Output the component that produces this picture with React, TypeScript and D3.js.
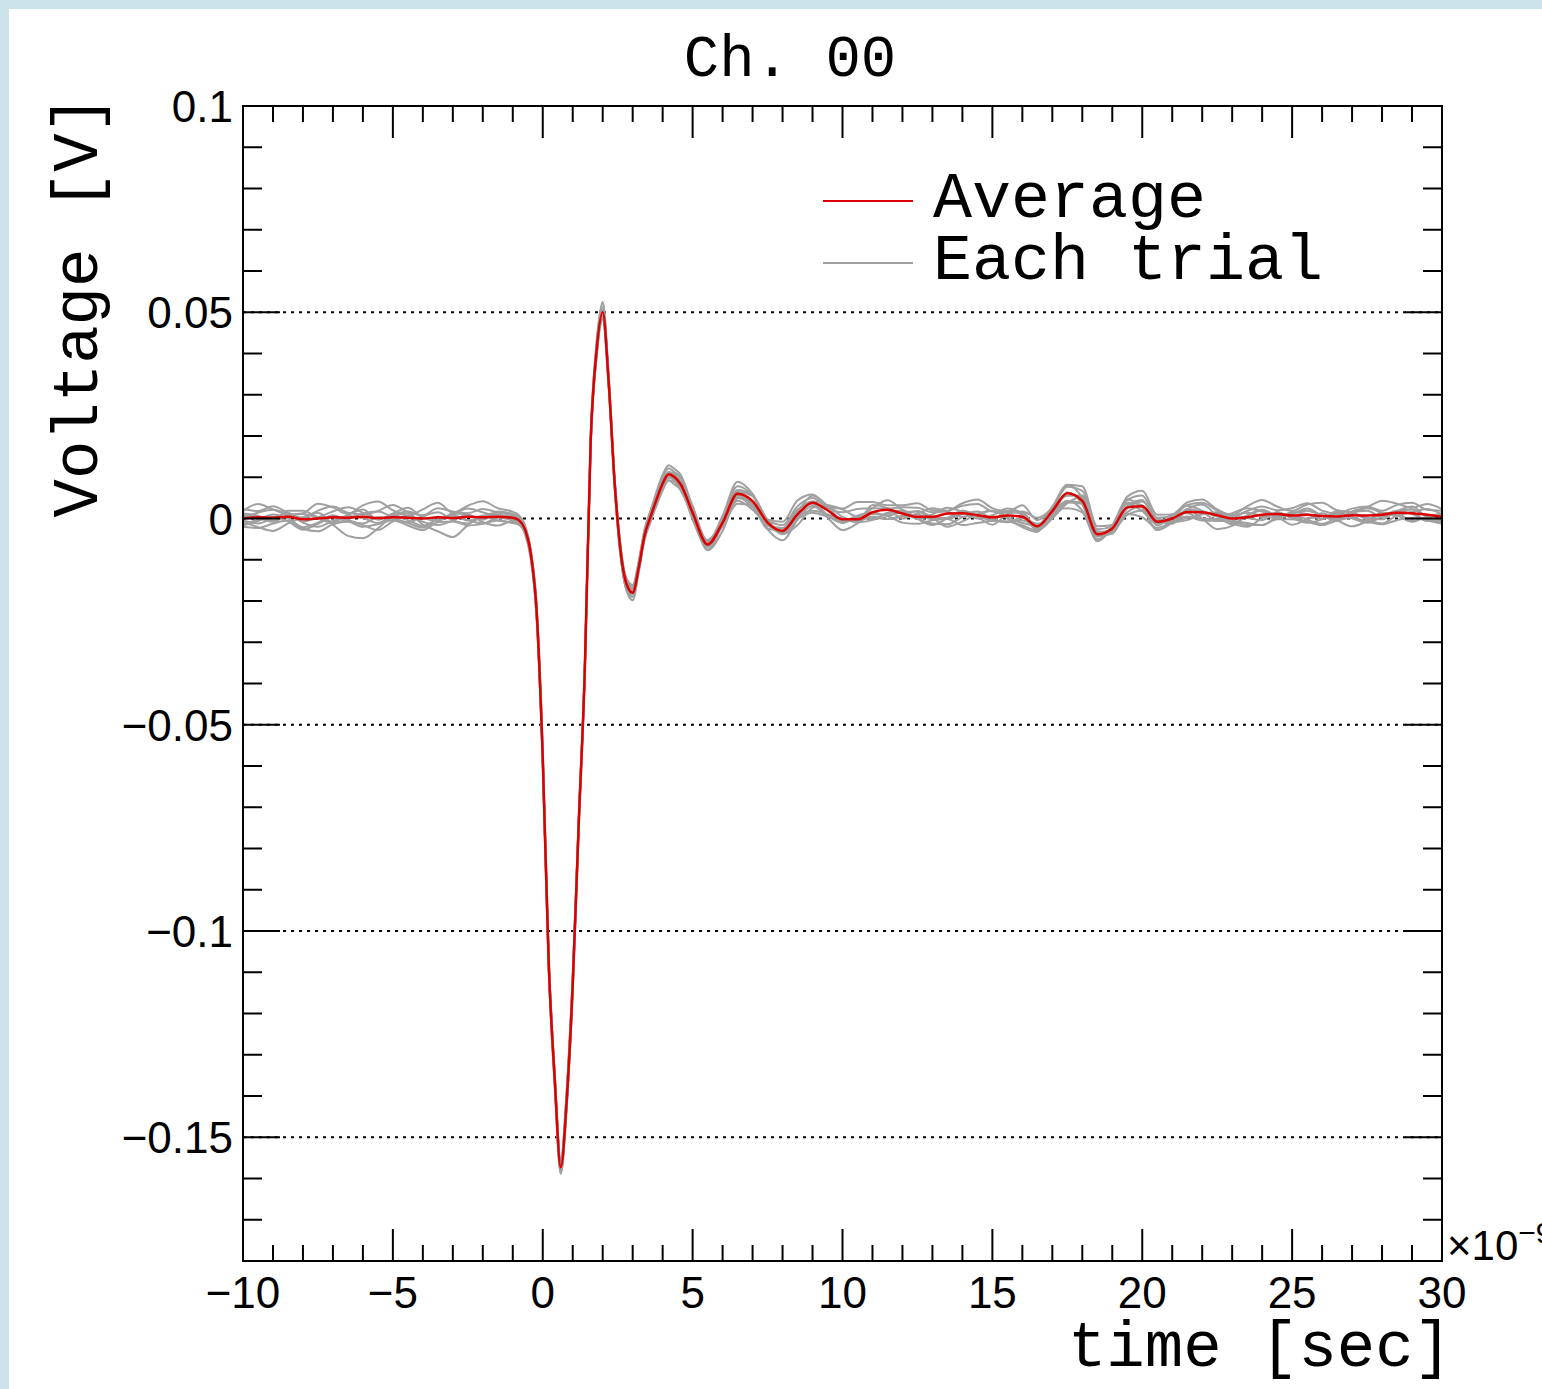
import React, { useEffect, useRef } from "react";
import * as d3 from "d3";

// sample times, in ns (x axis is shown as 1e-9 sec)
const times = [
  -10, -9.5, -9, -8.5, -8, -7.5, -7, -6.5, -6, -5.5, -5, -4.5, -4, -3.5, -3, -2.5, -2, -1.5, -1,
  -0.8, -0.6, -0.4, -0.2, 0, 0.2, 0.4, 0.6, 0.8, 1, 1.2, 1.4, 1.6, 1.8, 2, 2.2, 2.4, 2.6, 2.8, 3,
  3.2, 3.4, 3.6, 3.8, 4, 4.2, 4.4, 4.6,
  5, 5.5, 6, 6.5, 7, 7.5, 8, 8.5, 9, 9.5, 10, 10.5, 11, 11.5, 12, 12.5, 13, 13.5, 14, 14.5, 15,
  15.5, 16, 16.5, 17, 17.5, 18, 18.5, 19, 19.5, 20, 20.5, 21, 21.5, 22, 22.5, 23, 23.5, 24, 24.5,
  25, 25.5, 26, 26.5, 27, 27.5, 28, 28.5, 29, 29.5, 30,
];

// averaged waveform [V]
const average = [
  0.0, 0.0003, 0.0002, 0.0004, -0.0002, 0.0, 0.0003, 0.0002, 0.0004, 0.0001, 0.0003, 0.0002, 0.0,
  0.0003, 0.0001, 0.0004, 0.0003, 0.0004, 0.0002,
  -0.0004, -0.0025, -0.0085, -0.023, -0.058, -0.108, -0.136, -0.1573, -0.141, -0.113, -0.074,
  -0.0375, 0.019, 0.041, 0.05, 0.033, 0.0085, -0.008, -0.016, -0.018, -0.012, -0.004, 0.0005,
  0.0047, 0.0085, 0.0107, 0.01, 0.0083,
  0.0014, -0.0063, -0.001, 0.006, 0.0042, -0.001, -0.003, 0.001, 0.0038, 0.002, -0.0002, -0.0002,
  0.0015, 0.0021, 0.0012, 0.0004, 0.0004, 0.0012, 0.0013, 0.0008, 0.0003, 0.0007, 0.0004, -0.0019,
  0.0018, 0.0061, 0.0043, -0.0038, -0.0024, 0.0027, 0.003, -0.0008, 0.0, 0.0016, 0.0015, 0.0008,
  0.0, 0.0003, 0.0009, 0.0011, 0.0007, 0.0009, 0.0006, 0.0005, 0.0008, 0.0007, 0.0009, 0.0014,
  0.0013, 0.0009, 0.0004,
];

// each trial, as its deviation from the average [mV]
const trial01 = [
  1.2, 0.4, -0.8, 1.5, 2.1, 0.3, -1.1, 0.6, 1.8, -0.4, 0.9, 2.4, 0.2, -0.9, 1.1, 0.5, -0.6, 1.3, 0.8,
  0.5, 0.2, -0.4, -0.8, -1.2, -1.5, -0.9, -1.0, 0.6, 1.2, 0.9, 0.4, 0.3, 0.8, 1.2, 0.6, -0.3, -0.9,
  -1.3, -1.0, -0.6, 0.2, 0.8, 1.0, 0.7, 0.3, 0.6, -0.2,
  -0.5, -1.2, -0.4, 0.9, 1.4, 0.2, -0.8, -1.1, 0.3, 1.2, 0.6, -0.7, 1.8, 0.4, -1.2, 0.8, 2.1, 0.5,
  -0.9, 0.3, 1.6, -0.4, -1.5, 0.2, 0.9, -0.6, 1.3, 0.7, -1.0, -0.3, 1.1, 0.4, -1.3, 0.6, 1.9, -0.2,
  -1.4, 0.5, 1.0, -0.8, 0.3, 1.5, 0.1, -1.1, 0.7, 1.2, -0.5, 0.4, 1.6, -0.3, 0.8,
];
const trial02 = [
  -1.4, -0.6, 0.8, -0.3, -1.9, -1.0, 0.5, -0.7, -1.6, 0.2, -0.5, -1.3, -2.2, -0.4, 0.6, -0.8, -1.5,
  -0.2, -0.6,
  -0.4, -0.6, 0.5, 1.0, 1.4, 1.1, 0.8, 1.3, -0.4, -1.0, -0.7, -0.2, -0.5, -1.1, -1.6, -0.8, 0.4, 0.9,
  1.1, 1.4, 0.5, -0.3, -0.9, -1.2, -0.8, -0.4, -0.1, 0.3,
  0.6, 1.1, 0.3, -0.8, -1.5, -0.6, 0.7, 1.2, -0.2, -1.3, -0.9, 0.4, -1.6, -0.7, 0.8, -0.5, -2.0,
  -1.1, 0.6, -0.4, -1.8, 0.3, 1.2, -0.6, -1.4, 0.2, -0.9, -1.7, 0.4, 0.8, -1.2, -0.5, 1.0, -0.3,
  -1.6, -0.9, 0.7, -0.2, -1.3, 0.5, -0.6, -1.9, -0.8, 0.9, -0.4, -1.5, 0.2, -0.7, -2.1, -0.5, -1.0,
];
const trial03 = [
  2.3, 1.5, 2.8, 1.0, 0.4, 1.9, 2.6, 1.2, 0.6, 1.7, 3.0, 1.4, 0.8, 2.2, 1.6, 0.9, 2.0, 1.1, 0.9,
  0.8, 0.9, 0.6, 0.3, -0.5, -0.8, -0.3, 0.7, 1.5, 1.3, 0.9, 0.6, 0.9, 1.6, 2.0, 1.2, 0.5, 0.2, 0.4,
  0.9, 1.3, 1.6, 1.4, 1.1, 1.3, 1.5, 1.2, 1.6,
  0.9, 0.4, 1.1, 1.8, 1.3, 0.6, 1.4, 2.0, 1.2, 0.5, 1.7, 2.5, 1.0, 0.3, 1.5, 2.2, 1.1, 0.6, 1.8,
  2.7, 1.4, 0.7, 1.3, 2.1, 0.8, 1.6, 2.4, 1.2, 0.5, 1.9, 2.6, 1.0, 0.4, 1.7, 2.3, 1.1, 0.6, 1.5,
  2.0, 0.9, 1.8, 2.8, 1.3, 0.7, 1.6, 2.2, 1.0, 1.9, 2.5, 1.2, 1.5,
];
const trial04 = [
  -2.0, -2.6, -1.4, -0.9, -2.3, -3.1, -1.7, -1.0, -2.4, -1.5, -0.7, -1.9, -2.8, -1.2, -0.8, -2.1,
  -1.6, -0.9, -1.3,
  -1.0, -1.1, -1.3, -0.9, 0.4, 0.9, 1.5, 1.2, -0.3, -1.4, -1.8, -1.2, -1.0, -1.5, -1.9, -1.3, -0.8,
  -1.1, -1.6, -1.8, -1.2, -0.7, -1.0, -1.5, -1.7, -1.4, -1.1, -1.5,
  -0.6, -1.4, -2.0, -1.1, -0.5, -1.6, -2.3, -1.3, -0.7, -1.8, -2.6, -1.0, -0.4, -1.5, -2.2, -1.7,
  -0.8, -1.3, -2.9, -1.9, -0.9, -1.4, -2.1, -1.0, -0.6, -1.8, -2.4, -1.2, -0.5, -1.6, -2.7, -1.5,
  -0.8, -1.1, -2.0, -1.4, -0.7, -1.9, -2.5, -1.3, -0.9, -1.7, -2.2, -1.0, -0.6, -1.5, -2.3, -1.8,
  -1.1, -1.4, -1.7,
];
const trial05 = [
  0.2, 1.1, 1.9, 0.7, -0.5, 0.3, 1.4, 2.5, 1.0, -0.2, 0.6, 1.5, 0.4, -0.7, 0.8, 2.0, 1.2, 0.1, 0.4,
  0.2, -0.3, -0.6, -1.5, -2.2, -1.8, 0.4, 1.6, 2.2, 1.8, 1.0, 0.2, -0.2, 0.4, 0.6, -0.4, -1.2, -0.6,
  0.2, 0.8, 0.4, -0.4, 0.3, 0.9, 0.5, 0.6, 0.9, 0.7,
  1.6, 0.5, -0.6, 0.4, 1.3, 0.7, -0.4, 0.5, 1.8, 1.1, -0.3, 0.2, 1.0, 2.3, 0.9, -0.5, 0.6, 1.4, 0.3,
  -0.8, 0.5, 1.7, 0.8, -0.2, 1.1, 2.0, 0.6, -0.6, 0.4, 1.2, 0.2, -0.9, 0.7, 1.5, 0.4, -0.3, 1.3,
  2.2, 0.8, -0.4, 0.6, 1.0, 0.1, -0.7, 0.9, 1.8, 0.5, -0.5, 0.3, 1.4, 0.6,
];
const trial06 = [
  -0.5, -1.5, -0.2, 0.9, -0.8, -2.0, -0.9, 0.4, -0.3, -1.2, 0.3, -0.6, -1.8, -0.4, 0.7, -0.9, -0.1,
  0.6, -0.3,
  -0.2, 0.1, 0.9, 1.8, 2.4, 1.9, -0.4, -1.6, -2.0, -1.5, -0.6, 0.3, 0.1, -0.6, -0.9, 0.2, 1.0, 0.5,
  -0.4, -0.9, -0.5, 0.4, -0.2, -0.8, -0.4, -0.6, -0.9, -0.7,
  -1.7, -0.6, 0.5, -0.3, -1.4, -0.8, 0.4, -0.5, -1.9, -1.0, 0.2, -0.4, -1.1, -2.2, -0.7, 0.6, -0.6,
  -1.3, -0.2, 0.9, -0.4, -1.6, -0.9, 0.3, -1.0, -2.0, -0.5, 0.5, -0.3, -1.2, -0.1, 0.8, -0.6, -1.5,
  -0.4, 0.4, -1.1, -2.3, -0.8, 0.3, -0.5, -0.9, 0.0, 0.6, -0.8, -1.7, -0.4, 0.5, -0.2, -1.3, -0.6,
];
const trial07 = [
  -0.8, -2.4, -3.2, -1.6, 0.5, 1.4, -1.8, -4.4, -5.2, -2.5, 0.2, 1.0, -1.5, -3.4, -4.6, -2.0, 0.4,
  -0.9, -1.2,
  -1.1, -0.8, -0.5, 0.5, 1.0, 0.6, 0.3, -0.6, -1.1, -0.5, 0.2, -0.4, -0.9, -1.4, -0.7, 0.3, -0.5,
  -1.2, -0.6, 0.4, 0.2, -0.8, -1.3, -0.5, -1.1, -1.5, -1.8, -1.2,
  -0.4, 0.8, -0.9, -2.4, -1.0, 0.5, -0.8, -2.6, -1.2, 1.2, 2.4, 0.6, -1.3, -2.2, -0.5, 1.4, -0.2,
  -3.2, -2.0, 0.3, 1.6, -0.7, -2.5, -1.4, 0.2, -3.6, -2.8, -1.6, 0.8, 1.9, -0.4, -2.0, -1.0, 0.6,
  -1.5, -3.4, -1.8, 0.4, 1.2, -0.6, -2.2, -1.1, 0.7, -0.9, -2.7, -1.3, 0.5, -0.2, -1.8, -0.8, -1.4,
];
const trial08 = [
  1.8, 3.2, 2.0, 0.6, 1.5, 3.6, 2.4, 0.9, 2.8, 4.0, 1.7, 0.5, 2.2, 3.5, 1.3, 2.7, 3.9, 2.1, 1.4,
  1.2, 1.0, 0.7, 0.2, -0.4, -0.2, 0.8, 1.9, 2.4, 2.0, 1.4, 1.1, 1.5, 2.1, 2.5, 1.8, 1.2, 0.9, 1.4,
  1.9, 1.6, 1.1, 1.5, 1.9, 2.1, 2.2, 2.0, 2.3,
  1.5, 0.6, 1.7, 2.9, 1.8, 0.8, 2.2, 3.4, 2.0, 0.9, 2.6, 4.2, 2.5, 1.1, 2.0, 3.3, 1.6, 0.7, 2.4,
  3.8, 2.2, 1.0, 2.8, 1.5, 0.6, 2.1, 3.5, 1.9, 0.8, 2.6, 3.7, 1.7, 1.0, 2.3, 3.1, 1.4, 0.9, 2.7,
  3.6, 1.8, 1.1, 2.5, 3.2, 1.5, 0.8, 2.0, 3.4, 2.2, 1.3, 2.6, 1.9,
];
const trial09 = [
  0.9, -0.2, -1.0, 0.4, 1.3, 0.1, -1.4, -0.3, 0.8, 1.6, 0.0, -1.1, 0.5, 1.2, -0.5, -1.6, 0.3, 1.0, 0.2,
  0.0, -0.5, -1.0, -1.6, -1.0, 0.5, 1.2, 0.6, -0.8, -0.4, 0.3, 0.7, 0.2, -0.3, 0.4, 0.9, 0.2, -0.5,
  -0.2, 0.5, 0.8, 0.2, -0.4, 0.1, 0.6, 0.4, 0.1, 0.2,
  -1.0, -0.3, 0.8, 0.2, -0.9, -1.5, 0.1, 1.0, 0.3, -1.2, -0.5, 0.9, 0.0, -1.4, 0.4, 1.3, -0.2, -1.1,
  0.6, 0.0, -0.8, 1.1, 0.5, -1.0, -1.8, -2.4, 0.9, -0.4, -1.3, 0.3, 1.5, 0.1, -0.9, 0.7, 0.0, -1.2,
  0.4, 1.1, -0.3, -1.0, 0.8, 0.2, -0.7, 1.3, 0.6, -0.5, -1.1, 0.4, 0.9, -0.2, 0.3,
];
const trial10 = [
  -1.7, -0.9, 0.2, -1.1, -2.5, -1.3, 0.0, -0.6, -2.0, -2.9, -1.0, 0.4, -0.8, -1.9, -0.6, 0.5, -1.2,
  -2.1, -0.8,
  -0.7, -0.4, 0.2, 0.6, 0.3, -1.2, -2.0, -1.4, 0.2, 0.8, 0.5, -0.5, -1.0, -0.6, 0.1, -0.2, -0.9,
  -1.4, -1.0, -0.3, -0.6, -1.1, -0.7, -0.2, -0.9, -0.8, -0.5, -1.0,
  -0.8, 0.3, -0.5, -1.7, -2.1, -0.6, 0.2, -1.1, -2.4, -1.5, 0.1, -0.7, -1.9, -0.9, 0.5, -0.4, -1.6,
  -2.6, -1.0, 0.2, -0.8, -1.5, -0.3, 0.6, -1.3, -2.2, -0.7, 0.4, -0.6, -1.8, -1.1, 0.3, -0.9, -2.0,
  -0.5, 0.7, -0.4, -1.4, -2.5, -0.8, 0.1, -1.2, -1.9, -0.3, 0.5, -1.0, -2.1, -0.6, 0.2, -1.5, -0.9,
];
const trials = [trial01, trial02, trial03, trial04, trial05, trial06, trial07, trial08, trial09, trial10];

// tick labels
const xMajorTicks = [-10, -5, 0, 5, 10, 15, 20, 25, 30];
const yMajorTicks = [-0.15, -0.1, -0.05, 0, 0.05, 0.1];
const yGridTicks = [-0.15, -0.1, -0.05, 0, 0.05];

const W = 1542;
const H = 1389;
const frame = { left: 243, right: 1442, top: 106, bottom: 1261 };
const monoFont = "'Liberation Mono', 'DejaVu Sans Mono', monospace";
const sansFont = "'Liberation Sans', Arial, sans-serif";

const fmt = (v: number) => String(+v.toFixed(2)).replace("-", "\u2212");

export default function App() {
  const svgRef = useRef<SVGSVGElement>(null);

  useEffect(() => {
    const svg = d3.select(svgRef.current);
    svg.selectAll("*").remove();

    const x = d3.scaleLinear().domain([-10, 30]).range([frame.left, frame.right]);
    const y = d3.scaleLinear().domain([-0.18, 0.1]).range([frame.bottom, frame.top]);

    // canvas
    svg.append("rect").attr("width", W).attr("height", H).attr("fill", "#cde3eb");
    svg.append("rect").attr("x", 9).attr("y", 9).attr("width", W - 9).attr("height", H - 9).attr("fill", "#ffffff");

    svg.append("defs").append("clipPath").attr("id", "plotClip")
      .append("rect")
      .attr("x", frame.left).attr("y", frame.top)
      .attr("width", frame.right - frame.left).attr("height", frame.bottom - frame.top);

    // dotted grid
    svg.append("g")
      .selectAll("line")
      .data(yGridTicks)
      .enter()
      .append("line")
        .attr("x1", frame.left).attr("x2", frame.right)
        .attr("y1", d => y(d)).attr("y2", d => y(d))
        .attr("stroke", "#000")
        .attr("stroke-width", 2)
        .attr("stroke-dasharray", "3 5");

    const line = d3.line<[number, number]>()
      .x(d => x(d[0]))
      .y(d => y(d[1]))
      .curve(d3.curveMonotoneX);

    const plot = svg.append("g").attr("clip-path", "url(#plotClip)");

    // each trial
    trials.forEach(tr => {
      const pts: [number, number][] = times.map((t, i) => [t, average[i] + (tr[i] ?? 0) / 1000]);
      plot.append("path")
        .attr("d", line(pts))
        .attr("fill", "none")
        .attr("stroke", "#a0a0a0")
        .attr("stroke-width", 2);
    });

    // average
    const avgPts: [number, number][] = times.map((t, i) => [t, average[i]]);
    plot.append("path")
      .attr("d", line(avgPts))
      .attr("fill", "none")
      .attr("stroke", "#dc0000")
      .attr("stroke-width", 2.5);

    // ticks (inward, on all four sides)
    const ticks = svg.append("g").attr("stroke", "#000").attr("stroke-width", 2);
    d3.range(-10, 30.001, 1).forEach(v => {
      const major = Math.abs(v % 5) < 1e-9;
      const len = major ? 32 : 16;
      ticks.append("line").attr("x1", x(v)).attr("x2", x(v)).attr("y1", frame.bottom).attr("y2", frame.bottom - len);
      ticks.append("line").attr("x1", x(v)).attr("x2", x(v)).attr("y1", frame.top).attr("y2", frame.top + len);
    });
    d3.range(-18, 10.001, 1).forEach(k => {
      const v = k / 100;
      const major = k % 5 === 0;
      const len = major ? 37 : 19;
      ticks.append("line").attr("x1", frame.left).attr("x2", frame.left + len).attr("y1", y(v)).attr("y2", y(v));
      ticks.append("line").attr("x1", frame.right).attr("x2", frame.right - len).attr("y1", y(v)).attr("y2", y(v));
    });

    // frame
    svg.append("rect")
      .attr("x", frame.left).attr("y", frame.top)
      .attr("width", frame.right - frame.left).attr("height", frame.bottom - frame.top)
      .attr("fill", "none").attr("stroke", "#000").attr("stroke-width", 2);

    // tick labels
    svg.append("g")
      .selectAll("text")
      .data(xMajorTicks)
      .enter()
      .append("text")
        .attr("x", d => x(d))
        .attr("y", 1308)
        .attr("text-anchor", "middle")
        .style("font-family", sansFont)
        .style("font-size", "44px")
        .text(d => fmt(d));

    svg.append("g")
      .selectAll("text")
      .data(yMajorTicks)
      .enter()
      .append("text")
        .attr("x", frame.left - 10)
        .attr("y", d => y(d) + 16)
        .attr("text-anchor", "end")
        .style("font-family", sansFont)
        .style("font-size", "44px")
        .text(d => fmt(d));

    // exponent
    const expo = svg.append("text")
      .attr("x", 1447).attr("y", 1260)
      .style("font-family", sansFont)
      .style("font-size", "42px")
      .text("\u00d710");
    expo.append("tspan")
      .attr("dy", -17)
      .style("font-size", "30px")
      .text("\u22129");

    // title and axis titles
    svg.append("text")
      .attr("x", 790).attr("y", 76)
      .attr("text-anchor", "middle")
      .style("font-family", monoFont)
      .style("font-size", "59px")
      .text("Ch. 00");

    svg.append("text")
      .attr("x", 1452).attr("y", 1366)
      .attr("text-anchor", "end")
      .style("font-family", monoFont)
      .style("font-size", "64px")
      .text("time [sec]");

    svg.append("text")
      .attr("transform", "translate(97, 95) rotate(-90)")
      .attr("text-anchor", "end")
      .style("font-family", monoFont)
      .style("font-size", "64px")
      .text("Voltage [V]");

    // legend
    const legend = [
      { label: "Average", color: "#dc0000", y: 201 },
      { label: "Each trial", color: "#a0a0a0", y: 263 },
    ];
    const lg = svg.append("g");
    legend.forEach(l => {
      lg.append("line")
        .attr("x1", 823).attr("x2", 913).attr("y1", l.y).attr("y2", l.y)
        .attr("stroke", l.color).attr("stroke-width", 2);
      lg.append("text")
        .attr("x", 933).attr("y", l.y + 16)
        .style("font-family", monoFont)
        .style("font-size", "65px")
        .text(l.label);
    });
  }, []);

  return (
    <div>
      <svg
        ref={svgRef}
        width={W}
        height={H}
        style={{ position: "absolute", left: 0, top: 0, display: "block" }}
      ></svg>
    </div>
  );
}
